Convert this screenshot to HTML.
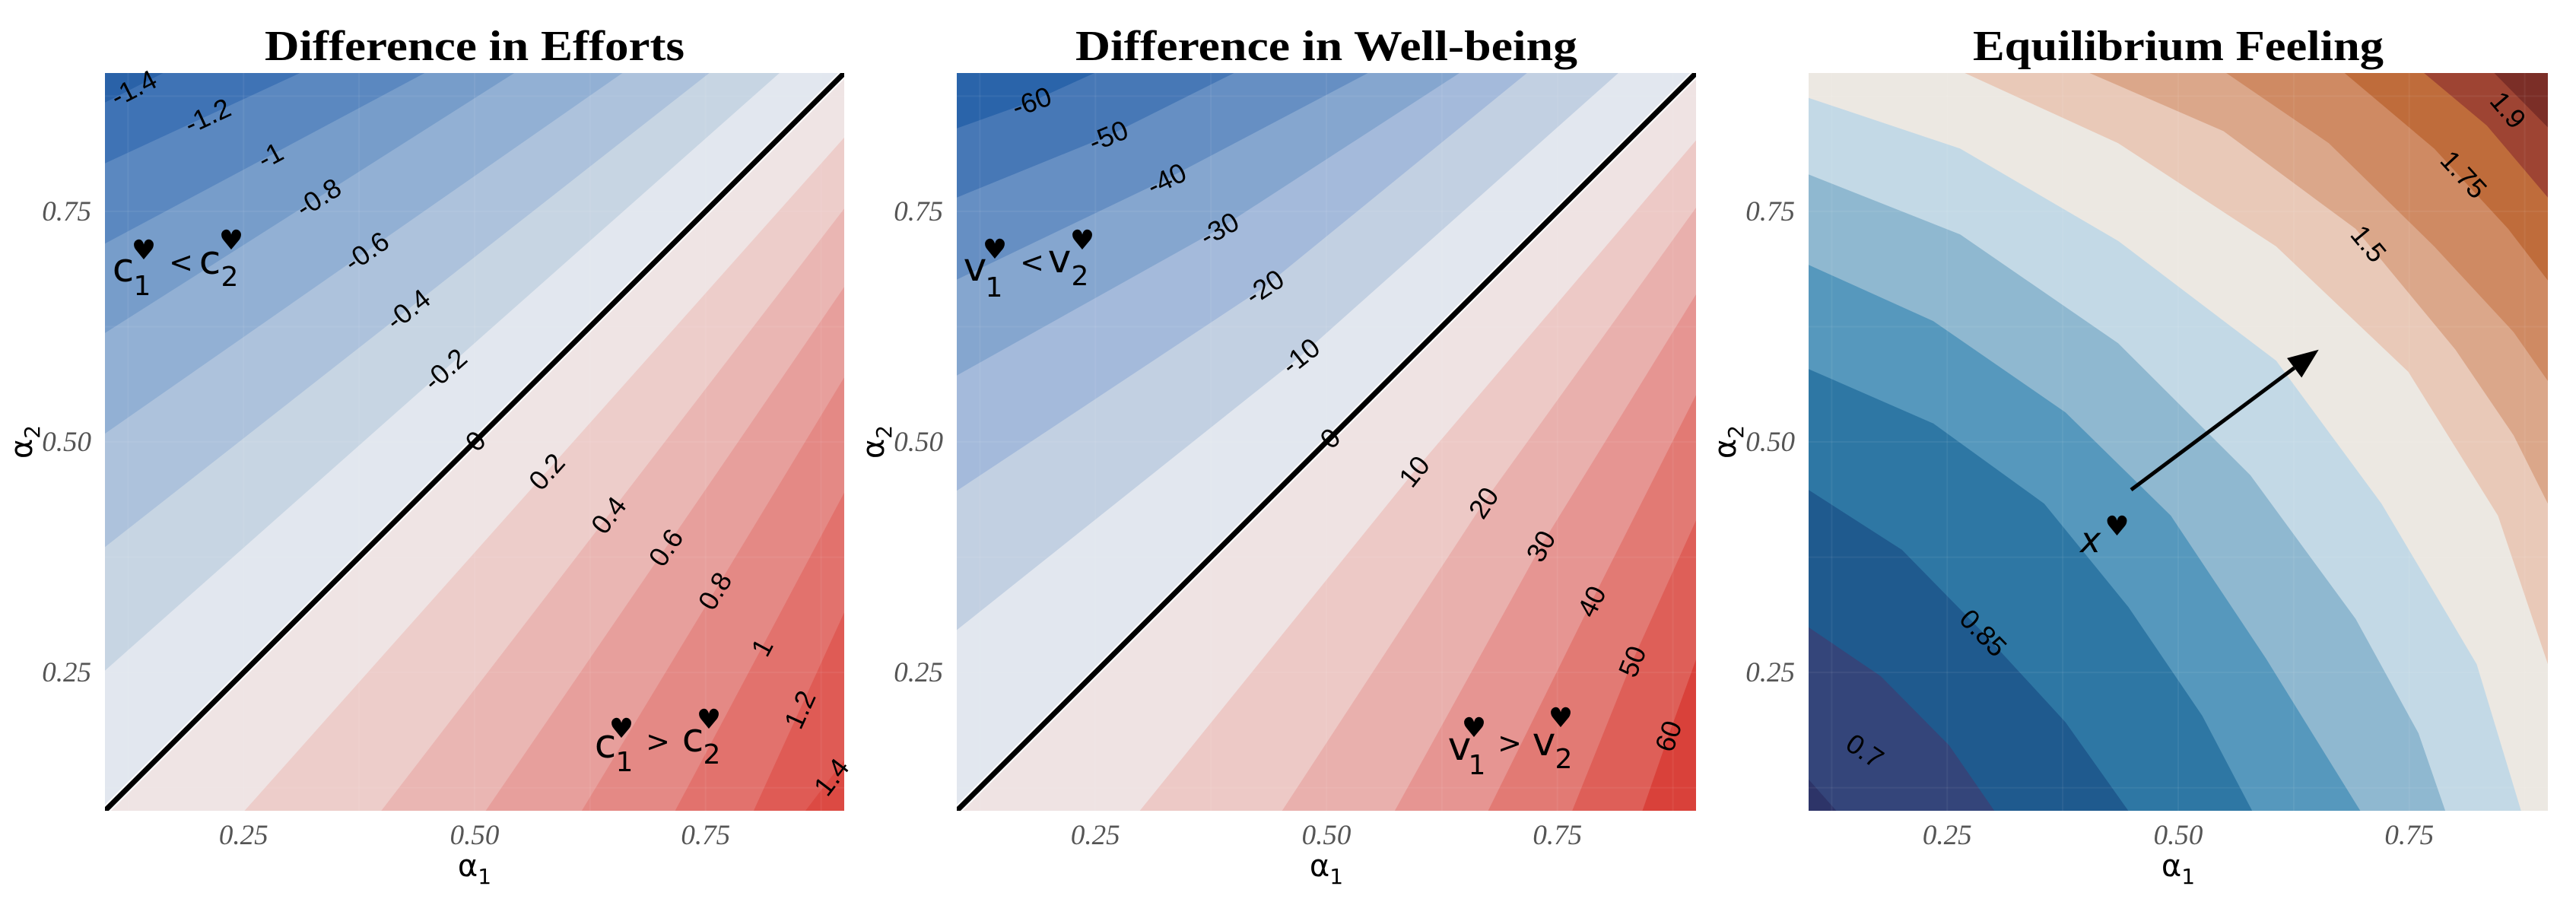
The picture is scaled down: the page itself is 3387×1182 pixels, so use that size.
<!DOCTYPE html>
<html><head><meta charset="utf-8"><style>
html,body{margin:0;padding:0;background:#fff;}
svg{display:block;}
</style></head><body>
<svg id="fig" width="3387" height="1182" viewBox="0 0 3387 1182" xmlns="http://www.w3.org/2000/svg"></svg>
<script>
// ---------- data: Difference in Efforts ----------
const effLevels = [-1.4,-1.2,-1.0,-0.8,-0.6,-0.4,-0.2,0,0.2,0.4,0.6,0.8,1.0,1.2,1.4];
const effLabels = ["-1.4","-1.2","-1","-0.8","-0.6","-0.4","-0.2","0","0.2","0.4","0.6","0.8","1","1.2","1.4"];
const effLines = [
 [[0.1,0.868],[0.163,0.9]],
 [[0.1,0.802],[0.311,0.9]],
 [[0.1,0.715],[0.446,0.9]],
 [[0.1,0.618],[0.543,0.9]],
 [[0.1,0.509],[0.660,0.9]],
 [[0.1,0.386],[0.754,0.9]],
 [[0.1,0.252],[0.830,0.9]],
 [[0.1,0.1],[0.9,0.9]],
 [[0.251,0.1],[0.9,0.830]],
 [[0.399,0.1],[0.9,0.753]],
 [[0.512,0.1],[0.9,0.668]],
 [[0.616,0.1],[0.9,0.570]],
 [[0.717,0.1],[0.9,0.445]],
 [[0.802,0.1],[0.9,0.315]],
 [[0.858,0.1],[0.9,0.155]]
];
const effLabelA1 = [0.131,0.211,0.279,0.331,0.383,0.428,0.468,0.501,0.578,0.645,0.707,0.760,0.811,0.852,0.886];
const effColors = ["#2a62a8","#3f73b5","#5b88c0","#779dca","#92b0d4","#adc2dc","#c7d5e3","#e2e7ef","#efe4e4","#edcdca","#eab6b3","#e79f9c","#e48985","#e2726d","#df5b55","#dc4a43"];

// ---------- data: Difference in Well-being ----------
const wbLevels = [-60,-50,-40,-30,-20,-10,0,10,20,30,40,50,60];
const wbLabels = ["-60","-50","-40","-30","-20","-10","0","10","20","30","40","50","60"];
const wbLines = [
 [[0.1,0.840],[0.181,0.869],[0.249,0.9]],
 [[0.1,0.765],[0.264,0.832],[0.400,0.9]],
 [[0.1,0.676],[0.327,0.785],[0.545,0.9]],
 [[0.1,0.572],[0.384,0.731],[0.644,0.9]],
 [[0.1,0.447],[0.433,0.668],[0.717,0.9]],
 [[0.1,0.296],[0.472,0.593],[0.816,0.9]],
 [[0.1,0.1],[0.9,0.9]],
 [[0.298,0.1],[0.595,0.468],[0.9,0.827]],
 [[0.452,0.1],[0.670,0.434],[0.9,0.754]],
 [[0.574,0.1],[0.732,0.387],[0.9,0.660]],
 [[0.675,0.1],[0.787,0.327],[0.9,0.551]],
 [[0.766,0.1],[0.831,0.262],[0.9,0.415]],
 [[0.842,0.1],[0.870,0.181],[0.9,0.264]]
];
const wbLabelA1 = [0.181,0.264,0.327,0.384,0.433,0.472,0.504,0.595,0.670,0.732,0.787,0.831,0.870];
const wbColors = ["#2a64aa","#4778b6","#668fc3","#85a6cf","#a4badb","#c2d0e2","#e2e7ef","#efe3e3","#edc9c6","#e9b0ad","#e69592","#e27a74","#de5f58","#d9413a"];

// ---------- data: Equilibrium Feeling ----------
const eqLevels = [0.55,0.7,0.85,0.95,1.05,1.15,1.25,1.4,1.5,1.6,1.75,1.9,2.0];
const eqLines = [
 [[0.1,0.134],[0.130,0.1]],
 [[0.1,0.299],[0.178,0.246],[0.252,0.171],[0.301,0.1]],
 [[0.1,0.448],[0.201,0.383],[0.289,0.293],[0.378,0.196],[0.446,0.1]],
 [[0.1,0.579],[0.235,0.520],[0.355,0.433],[0.446,0.321],[0.526,0.203],[0.580,0.1]],
 [[0.1,0.692],[0.235,0.631],[0.378,0.532],[0.492,0.420],[0.595,0.265],[0.697,0.1]],
 [[0.1,0.790],[0.264,0.725],[0.435,0.607],[0.578,0.464],[0.692,0.308],[0.760,0.184],[0.789,0.1]],
 [[0.1,0.873],[0.264,0.818],[0.435,0.718],[0.606,0.588],[0.720,0.433],[0.823,0.259],[0.871,0.1]],
 [[0.269,0.9],[0.435,0.824],[0.606,0.712],[0.749,0.576],[0.846,0.420],[0.9,0.259]],
 [[0.404,0.9],[0.549,0.837],[0.692,0.731],[0.800,0.600],[0.863,0.507],[0.9,0.433]],
 [[0.552,0.9],[0.663,0.824],[0.777,0.712],[0.863,0.619],[0.9,0.566]],
 [[0.680,0.9],[0.777,0.818],[0.857,0.731],[0.9,0.675]],
 [[0.766,0.9],[0.834,0.843],[0.9,0.765]],
 [[0.842,0.9],[0.9,0.841]]
];
const eqColors = ["#2d3468","#34457a","#1f5a8e","#2e77a4","#5698bd","#8fb8d0","#c3d9e6","#ece8e2","#e9c9b8","#dba78a","#cf8a63","#bf6c3b","#9e4433","#7b2e27"];
const eqLabelText = ["0.7","0.85","1.5","1.75","1.9"];
const eqLabelA1 = [0.161,0.289,0.706,0.809,0.857];
const eqLabelA2 = [0.165,0.293,0.715,0.790,0.860];
const eqArrowFrom = [0.449,0.448];
const eqArrowTo = [0.652,0.600];
const eqPoint = [0.405,0.392];

const ticks = [0.25,0.50,0.75];
const tickText = ["0.25","0.50","0.75"];
const gridVals = [0.125,0.25,0.375,0.5,0.625,0.75,0.875];

// ---------- drawing ----------
const NS = "http://www.w3.org/2000/svg";
const svg = document.getElementById('fig');
const PY0 = 96, PY1 = 1066, PW = 972;
function mk(tag, attrs, parent){
  const e = document.createElementNS(NS, tag);
  for (const k in attrs) e.setAttribute(k, attrs[k]);
  (parent||svg).appendChild(e);
  return e;
}
function axes(x0){
  return {
    sx: a => x0 + (a-0.1)/0.8*PW,
    sy: a => PY1 - (a-0.1)/0.8*(PY1-PY0)
  };
}
function ptsStr(ax, pts){ return pts.map(p => ax.sx(p[0]).toFixed(1)+','+ax.sy(p[1]).toFixed(1)).join(' '); }
function lineAt(line, a1){
  for (let i=0;i<line.length-1;i++){
    const p=line[i], q=line[i+1];
    if ((a1>=p[0] && a1<=q[0]) || i===line.length-2){
      const t = (q[0]===p[0]) ? 0 : (a1-p[0])/(q[0]-p[0]);
      return {a2: p[1]+t*(q[1]-p[1]), p, q};
    }
  }
}
function clabel(g, ax, txt, a1, a2, p, q, name){
  const x = ax.sx(a1), y = ax.sy(a2);
  let ang = Math.atan2(ax.sy(q[1])-ax.sy(p[1]), ax.sx(q[0])-ax.sx(p[0]))*180/Math.PI;
  if (ang>90) ang-=180; if (ang<-90) ang+=180;
  const t = mk('text', {x:x, y:y, 'text-anchor':'middle', 'dominant-baseline':'central',
    transform:`rotate(${ang.toFixed(1)} ${x.toFixed(1)} ${y.toFixed(1)})`,
    'font-family':'"Liberation Sans", sans-serif', 'font-size':36, fill:'#000'}, g);
  
  
  t.textContent = txt;
}
function frame(x0, idx, title, titleLen){
  const ax = axes(x0);
  const t = mk('text', {x: x0+PW/2, y: 79, 'text-anchor':'middle', 'font-family':'"Liberation Serif", serif',
    'font-weight':'bold', 'font-size':56, textLength:titleLen, lengthAdjust:'spacingAndGlyphs', fill:'#000'});
  
  
  t.textContent = title;
  ticks.forEach((v,i)=>{
    const xt = mk('text', {x: ax.sx(v), y: 1110, 'text-anchor':'middle', 'font-family':'"Liberation Serif", serif',
      'font-style':'italic', 'font-size':37, fill:'#555'});
    
    
    xt.textContent = tickText[i];
    const yt = mk('text', {x: x0-18, y: ax.sy(v)+12, 'text-anchor':'end', 'font-family':'"Liberation Serif", serif',
      'font-style':'italic', 'font-size':37, fill:'#555'});
    
    
    yt.textContent = tickText[i];
  });
  const xl = mk('text', {x: x0+PW/2, y: 1152, 'text-anchor':'middle', 'font-family':'"DejaVu Sans", sans-serif', 'font-size':40, fill:'#000'});
  
  
  xl.innerHTML = 'α<tspan font-size="28" dy="10">1</tspan>';
  const yl = mk('text', {x: 0, y: 0, 'text-anchor':'middle', 'font-family':'"DejaVu Sans", sans-serif', 'font-size':40, fill:'#000',
    transform:`translate(${x0-96},${ax.sy(0.5)}) rotate(-90)`});
  
  
  yl.innerHTML = 'α<tspan font-size="28" dy="10">2</tspan>';
  return ax;
}
function clipFor(x0, id){
  const cp = mk('clipPath', {id:id});
  mk('rect', {x:x0, y:PY0, width:PW, height:PY1-PY0}, cp);
  const g = mk('g', {'clip-path':`url(#${id})`});
  return g;
}
function grid(g, ax){
  gridVals.forEach(v=>{
    const l1 = mk('line', {x1:ax.sx(v), x2:ax.sx(v), y1:PY0, y2:PY1, stroke:'rgba(255,255,255,0.06)', 'stroke-width':2}, g);
     
    const l2 = mk('line', {x1:ax.sx(0.1), x2:ax.sx(0.9), y1:ax.sy(v), y2:ax.sy(v), stroke:'rgba(255,255,255,0.06)', 'stroke-width':2}, g);
     
  });
}
function diverging(x0, idx, levels, lines, colors, labels, labelA1){
  const ax = axes(x0);
  const g = clipFor(x0, 'clip'+idx);
  const bg = mk('rect', {x:x0, y:PY0, width:PW, height:PY1-PY0, fill:colors[colors.length-1]}, g);
   
  for (let i=levels.length-1;i>=0;i--){
    const pts = lines[i].slice();
    const f = pts[0], l = pts[pts.length-1];
    pts.push([l[0],5],[-5,5],[-5,f[1]]);
    const poly = mk('polygon', {points: ptsStr(ax, pts), fill: colors[i]}, g);
    
    
  }
  grid(g, ax);
  const zi = levels.indexOf(0);
  const zl = mk('polyline', {points: ptsStr(ax, lines[zi]), fill:'none', stroke:'#fff', 'stroke-width':11}, g);
   
  const z2 = mk('polyline', {points: ptsStr(ax, lines[zi]), fill:'none', stroke:'#000', 'stroke-width':7}, g);
   
  levels.forEach((v,i)=>{
    const r = lineAt(lines[i], labelA1[i]);
    clabel(svg, ax, labels[i], labelA1[i], r.a2, r.p, r.q, 'contour-label');
  });
}
function rel(parts, name){
  const g = mk('g', {});
  
  
  parts.forEach(p=>{
    const t = mk('text', {x:p[0], y:p[1], 'text-anchor':'middle', 'font-family':'"DejaVu Sans", sans-serif', 'font-size':p[3], fill:'#000'}, g);
    t.textContent = p[2];
  });
}

// Panel 1
frame(138, 1, 'Difference in Efforts', 552);
diverging(138, 1, effLevels, effLines, effColors, effLabels, effLabelA1);
rel([[162,370,'c',52],[187,388,'1',36],[189,341,'♥',36],[238,358,'<',38],[276,360,'c',52],[302,376,'2',36],[304,328,'♥',36]], 'c1-less-than-c2-annotation');
rel([[796,996,'c',52],[821,1014,'1',36],[817,970,'♥',36],[865,988,'>',38],[911,988,'c',52],[936,1004,'2',36],[932,958,'♥',36]], 'c1-greater-than-c2-annotation');

// Panel 2
frame(1258, 2, 'Difference in Well-being', 660);
diverging(1258, 2, wbLevels, wbLines, wbColors, wbLabels, wbLabelA1);
rel([[1282,369,'v',52],[1307,390,'1',36],[1308,340,'♥',36],[1357,358,'<',38],[1393,358,'v',52],[1420,375,'2',36],[1423,328,'♥',36]], 'v1-less-than-v2-annotation');
rel([[1919,999,'v',52],[1942,1018,'1',36],[1938,969,'♥',36],[1985,990,'>',38],[2030,993,'v',52],[2056,1010,'2',36],[2052,956,'♥',36]], 'v1-greater-than-v2-annotation');

// Panel 3
(function(){
  const x0 = 2378;
  const ax = frame(x0, 3, 'Equilibrium Feeling', 540);
  const g = clipFor(x0, 'clip3');
  const bg = mk('rect', {x:x0, y:PY0, width:PW, height:PY1-PY0, fill:eqColors[0]}, g);
   
  for (let i=0;i<eqLevels.length;i++){
    const pts = eqLines[i].slice();
    const f = pts[0], l = pts[pts.length-1];
    pts.push([5,l[1]],[5,5],[f[0],5]);
    const poly = mk('polygon', {points: ptsStr(ax, pts), fill: eqColors[i+1]}, g);
    
    
  }
  grid(g, ax);
  eqLabelText.forEach((txt,i)=>{
    const lvl = eqLevels.indexOf(parseFloat(txt));
    const r = lineAt(eqLines[lvl], eqLabelA1[i]);
    clabel(svg, ax, txt, eqLabelA1[i], eqLabelA2[i], r.p, r.q, 'feeling-contour-label');
  });
  const x1 = ax.sx(eqArrowFrom[0]), y1 = ax.sy(eqArrowFrom[1]);
  const x2 = ax.sx(eqArrowTo[0]), y2 = ax.sy(eqArrowTo[1]);
  const ang = Math.atan2(y2-y1, x2-x1);
  const hl = 40, hw = 16;
  const bx = x2 - hl*Math.cos(ang), by = y2 - hl*Math.sin(ang);
  const arrow = mk('g', {});
  
  
  mk('line', {x1:x1, y1:y1, x2:bx, y2:by, stroke:'#000', 'stroke-width':5}, arrow);
  mk('polygon', {points:`${x2},${y2} ${bx - hw*Math.sin(ang)},${by + hw*Math.cos(ang)} ${bx + hw*Math.sin(ang)},${by - hw*Math.cos(ang)}`, fill:'#000'}, arrow);
  const px = ax.sx(eqPoint[0]), py = ax.sy(eqPoint[1]);
  const xt = mk('text', {x:px, y:py+14, 'text-anchor':'middle', 'font-family':'"DejaVu Sans", sans-serif', 'font-style':'italic', 'font-size':46, fill:'#000'});
  
  
  xt.textContent = 'x';
  const ht = mk('text', {x:px+35, y:py-8, 'text-anchor':'middle', 'font-family':'"DejaVu Sans", sans-serif', 'font-size':36, fill:'#000'});
  
  
  ht.textContent = '♥';
})();
</script>
</body></html>
